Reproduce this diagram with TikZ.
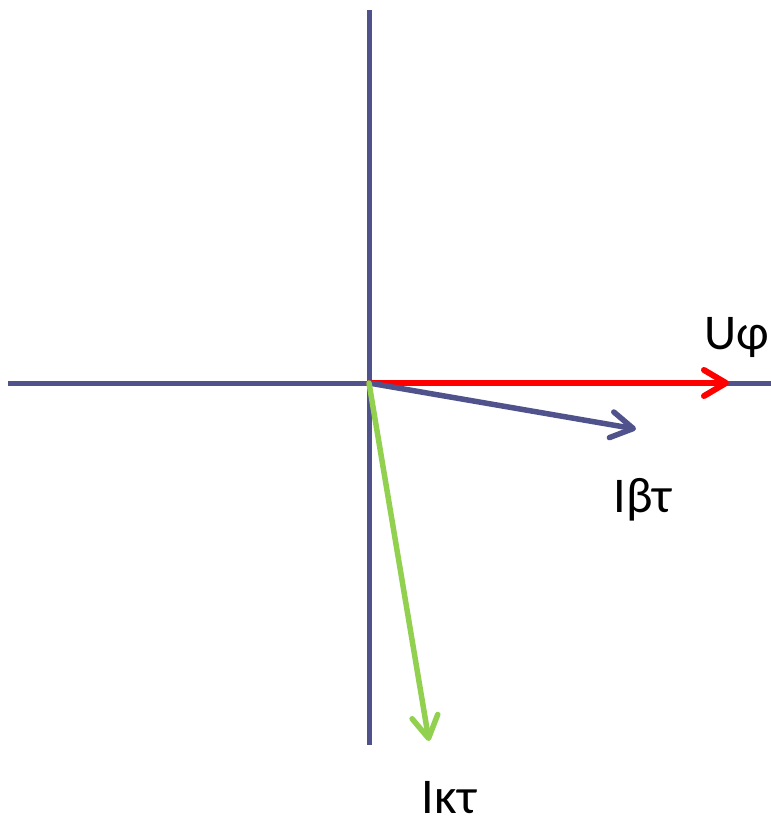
\documentclass[tikz,border=0pt]{standalone}
\usepackage{fontspec}
\setmainfont{Carlito}
\usetikzlibrary{arrows.meta}
\definecolor{axisblue}{RGB}{80,82,140}
\definecolor{vred}{RGB}{255,0,0}
\definecolor{vgreen}{RGB}{146,208,80}
\tikzset{
  axisline/.style={draw=axisblue, line width=5pt},
  vec/.style={line width=5.5pt, line cap=round, -{Straight Barb[length=22pt,width=26pt,round]}},
  lbl/.style={font=\fontsize{50}{56}\selectfont, inner sep=0pt, anchor=base}
}
\begin{document}
\begin{tikzpicture}[x=1pt,y=-1pt]
\useasboundingbox (0,0) rectangle (771,820);
\coordinate (O) at (369,383);
\coordinate (top) at (369,10);
\coordinate (bot) at (369,745);
\coordinate (left) at (8,383);
\coordinate (right) at (771,383);
\coordinate (U) at (729,383);
\coordinate (Ib) at (636,429);
\coordinate (Ik) at (429,741);
\draw[axisline] (top) -- (bot);
\draw[axisline] (left) -- (right);
\draw[vec, draw=vred, line width=6pt] (O) -- (U);
\draw[vec, draw=axisblue] (O) -- (Ib);
\draw[vec, draw=vgreen] (O) -- (Ik);
\node[lbl] (lU) at (737,349) {Uφ};
\node[lbl] (lIb) at (643,512) {Iβτ};
\node[lbl] (lIk) at (449,813) {Iκτ};
\end{tikzpicture}
\end{document}
